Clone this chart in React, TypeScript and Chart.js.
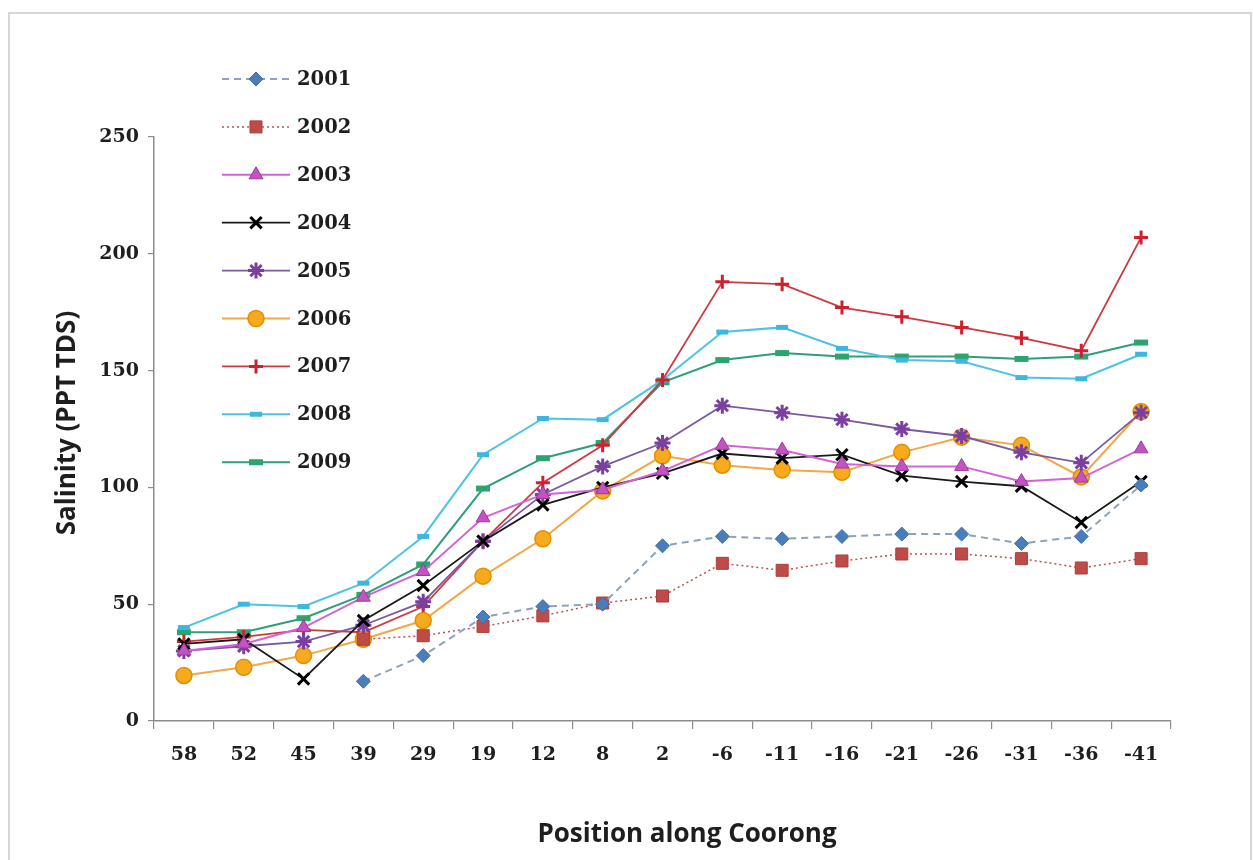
import React, { useEffect, useRef } from 'react';
import { Chart, registerables } from 'chart.js';
import { drawPoint } from 'chart.js/helpers';

Chart.register(...registerables);

const positions = ['58', '52', '45', '39', '29', '19', '12', '8', '2', '-6', '-11', '-16', '-21', '-26', '-31', '-36', '-41'];

const s2001 = [null, null, null, 17, 28, 44.5, 49, 50, 75, 79, 78, 79, 80, 80, 76, 79, 101];
const s2002 = [null, null, null, 35, 36.5, 40.5, 45, 50.5, 53.5, 67.5, 64.5, 68.5, 71.5, 71.5, 69.5, 65.5, 69.5];
const s2003 = [30, 33, 40, 53, 64, 87, 97, 99, 107, 118, 116, 110, 109, 109, 102.5, 104, 116.5];
const s2004 = [33, 35, 18, 43, 58, 77, 92.5, 100, 106, 114.5, 112.5, 114, 105, 102.5, 100.5, 85, 102.5];
const s2005 = [30, 32, 34, 41, 51, 77, 97, 109, 119, 135, 132, 129, 125, 122, 115, 110.5, 132];
const s2006 = [19.5, 23, 28, 35, 43, 62, 78, 98.5, 113.5, 109.5, 107.5, 106.5, 115, 121.5, 118, 104.5, 132.5];
const s2007 = [34, 36, 39, 38, 49, 77, 102, 118, 146, 188, 187, 177, 173, 168.5, 164, 158.5, 207];
const s2008 = [40, 50, 49, 59, 79, 114, 129.5, 129, 146, 166.5, 168.5, 159.5, 154.5, 154, 147, 146.5, 157];
const s2009 = [38, 38, 44, 54, 67, 99.5, 112.5, 119, 145, 154.5, 157.5, 156, 156, 156, 155, 156, 162];

const yTicks = [0, 50, 100, 150, 200, 250];

const xTitle = 'Position along Coorong';
const yTitle = 'Salinity (PPT TDS)';

const serifFont = { family: '"DejaVu Serif", serif', weight: 'bold' as const, size: 19 };
const titleCss = 'bold 26px "Open Sans", Lato, sans-serif';

const legendPlugin = {
  id: 'customLegend',
  afterDraw(chart: any) {
    const ctx = chart.ctx as CanvasRenderingContext2D;
    chart.data.datasets.forEach((ds: any, i: number) => {
      const y = 79 + i * 47.9;
      ctx.save();
      ctx.strokeStyle = ds.borderColor;
      ctx.lineWidth = ds.borderWidth;
      ctx.setLineDash(ds.borderDash || []);
      ctx.beginPath();
      ctx.moveTo(222, y);
      ctx.lineTo(290, y);
      ctx.stroke();
      ctx.setLineDash([]);
      ctx.fillStyle = ds.pointBackgroundColor;
      ctx.strokeStyle = ds.pointBorderColor;
      ctx.lineWidth = ds.pointBorderWidth;
      drawPoint(ctx, { pointStyle: ds.pointStyle, radius: ds.pointRadius, rotation: 0, borderWidth: ds.pointBorderWidth } as any, 256, y);
      ctx.fillStyle = '#1e1e1e';
      ctx.font = 'bold 19.5px "DejaVu Serif", serif';
      ctx.textBaseline = 'middle';
      ctx.textAlign = 'left';
      ctx.fillText(ds.label, 297, y + 1);
      ctx.restore();
    });

    // axis titles
    ctx.save();
    ctx.fillStyle = '#1e1e1e';
    ctx.font = titleCss;
    ctx.textAlign = 'center';
    ctx.textBaseline = 'middle';
    ctx.fillText(xTitle, 687, 835);
    ctx.translate(68, 423);
    ctx.rotate(-Math.PI / 2);
    ctx.fillText(yTitle, 0, 0);
    ctx.restore();
  },
};

export default function App() {
  const canvasRef = useRef<HTMLCanvasElement>(null);

  useEffect(() => {
    if (!canvasRef.current) return;
    const chart = new Chart(canvasRef.current, {
      type: 'line',
      data: {
        labels: positions,
        datasets: [
          { label: '2001', data: s2001, borderColor: '#8EA2BC', borderWidth: 2, borderDash: [7, 5], pointStyle: 'rectRot', pointRadius: 7, pointBackgroundColor: '#4A7EBB', pointBorderColor: '#3F6FA8', pointBorderWidth: 1 },
          { label: '2002', data: s2002, borderColor: '#C0504D', borderWidth: 1.5, borderDash: [2, 3], pointStyle: 'rect', pointRadius: 8.5, pointBackgroundColor: '#BE4B48', pointBorderColor: '#A8403D', pointBorderWidth: 1 },
          { label: '2003', data: s2003, borderColor: '#D462D4', borderWidth: 2, pointStyle: 'triangle', pointRadius: 8, pointBackgroundColor: '#C552C5', pointBorderColor: '#9A3A9A', pointBorderWidth: 1 },
          { label: '2004', data: s2004, borderColor: '#1A1A1A', borderWidth: 1.8, pointStyle: 'crossRot', pointRadius: 8, pointBackgroundColor: '#000000', pointBorderColor: '#000000', pointBorderWidth: 3 },
          { label: '2005', data: s2005, borderColor: '#7A5A9E', borderWidth: 1.8, pointStyle: 'star', pointRadius: 8, pointBackgroundColor: '#7B3FA0', pointBorderColor: '#7B3FA0', pointBorderWidth: 3 },
          { label: '2006', data: s2006, borderColor: '#F0A848', borderWidth: 2, pointStyle: 'circle', pointRadius: 8, pointBackgroundColor: '#F7AA1E', pointBorderColor: '#E38F00', pointBorderWidth: 1.5 },
          { label: '2007', data: s2007, borderColor: '#CC3A40', borderWidth: 1.8, pointStyle: 'cross', pointRadius: 7, pointBackgroundColor: '#D02030', pointBorderColor: '#D02030', pointBorderWidth: 3 },
          { label: '2008', data: s2008, borderColor: '#4CC3E3', borderWidth: 2, pointStyle: 'line', pointRadius: 6, pointBackgroundColor: '#3DB7DD', pointBorderColor: '#3DB7DD', pointBorderWidth: 5 },
          { label: '2009', data: s2009, borderColor: '#2F9E7A', borderWidth: 2, pointStyle: 'line', pointRadius: 7, pointBackgroundColor: '#2BA56D', pointBorderColor: '#2BA56D', pointBorderWidth: 6 },
        ] as any,
      },
      options: {
        responsive: false,
        animation: false,
        events: [],
        layout: { padding: { top: 137, right: 82, bottom: 0, left: 0 } },
        plugins: { legend: { display: false }, tooltip: { enabled: false } },
        elements: { line: { tension: 0 } },
        scales: {
          x: {
            type: 'category',
            offset: true,
            grid: { display: true, drawOnChartArea: false, drawTicks: true, tickLength: 8, color: '#8C8C8C', offset: true, lineWidth: 1.2 },
            border: { display: true, color: '#8C8C8C', width: 1.5 },
            ticks: { font: serifFont, color: '#1E1E1E', padding: 15, maxRotation: 0, autoSkip: false },
            title: { display: false },
            afterFit: (s: any) => { s.height = 139; },
          },
          y: {
            min: 0,
            max: 250,
            afterBuildTicks: (s: any) => { s.ticks = yTicks.map((v) => ({ value: v })); },
            grid: { display: true, drawOnChartArea: false, drawTicks: true, tickLength: 6, color: '#8C8C8C', lineWidth: 1.2 },
            border: { display: true, color: '#8C8C8C', width: 1.5 },
            ticks: { font: serifFont, color: '#1E1E1E', padding: 9 },
            title: { display: false },
            afterFit: (s: any) => { s.width = 154; },
          },
        },
      } as any,
      plugins: [legendPlugin],
    });
    return () => chart.destroy();
  }, []);

  return (
    <div>
      <div style={{ position: 'fixed', left: 8, top: 12, width: 1240, height: 900, border: '2px solid #D6D6D6', boxSizing: 'content-box' }} />
      <canvas ref={canvasRef} width={1253} height={860} style={{ position: 'fixed', left: 0, top: 0, width: 1253, height: 860 }} />
    </div>
  );
}
